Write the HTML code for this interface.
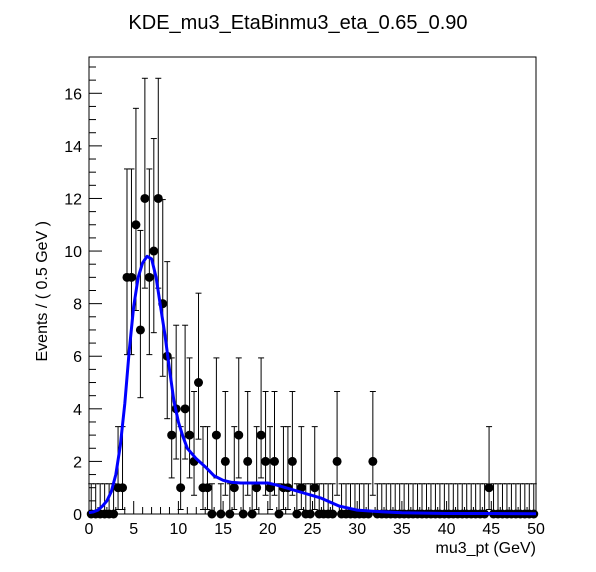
<!DOCTYPE html>
<html><head><meta charset="utf-8"><style>
body{margin:0;background:#fff}
svg{display:block;font-family:"Liberation Sans",Arial,sans-serif}
</style></head><body>
<svg id="c" width="596" height="572" xmlns="http://www.w3.org/2000/svg">
<rect width="596" height="572" fill="#fff"/>
<text x="298" y="29" font-size="20" text-anchor="middle">KDE_mu3_EtaBinmu3_eta_0.65_0.90</text>
<text x="536" y="553" font-size="16" text-anchor="end">mu3_pt (GeV)</text>
<text transform="translate(47,221) rotate(-90)" font-size="16" text-anchor="end">Events / ( 0.5 GeV )</text>
<g id="g"></g>
</svg>
<script>
const counts=[0,0,0,0,0,0,1,1,9,9,11,7,12,9,10,12,8,6,3,4,1,4,3,2,5,1,1,0,3,0,2,0,1,3,0,2,0,1,3,2,1,2,0,1,1,2,0,1,0,0,1,0,0,0,0,2,0,0,0,0,0,0,0,2,0,0,0,0,0,0,0,0,0,0,0,0,0,0,0,0,0,0,0,0,0,0,0,0,0,1,0,0,0,0,0,0,0,0,0,0];
const curveX=[0,0.5,1,1.5,2,2.5,3,3.5,4,4.5,5,5.5,6,6.5,7,7.5,8,8.5,9,9.5,10,10.5,11,12,13,14,15,16,17,18,19,20,21,22,23,24,25,26,27,28,30,32,35,40,45,50];
const curveY=[0.05,0.08,0.15,0.3,0.5,0.85,1.5,2.6,4.2,6.2,7.9,9.0,9.55,9.8,9.7,9.0,7.9,6.8,5.5,4.3,3.5,2.95,2.5,2.1,1.8,1.45,1.28,1.2,1.18,1.18,1.18,1.18,1.1,1.0,0.9,0.8,0.7,0.6,0.45,0.3,0.15,0.1,0.05,0.02,0.02,0.01];
const xTicks=[0,5,10,15,20,25,30,35,40,45,50];
const yTicks=[0,2,4,6,8,10,12,14,16];
const X0=89,X1=536,Y0=514,Y1=57,XMAX=50,YMAX=17.38;
const sx=v=>X0+(X1-X0)*v/XMAX, sy=v=>Y0-(Y0-Y1)*v/YMAX;
const g=document.getElementById('g'),NS='http://www.w3.org/2000/svg';
function mk(t,a){const e=document.createElementNS(NS,t);for(const k in a)e.setAttribute(k,a[k]);g.appendChild(e);return e;}
function errs(n){if(n===0)return[0,1.15];const lo=n*Math.pow(1-1/(9*n)-1/(3*Math.sqrt(n)),3);return[n-lo,Math.sqrt(n+0.75)+1];}
let fr=mk('rect',{x:X0,y:Y1,width:X1-X0,height:Y0-Y1,fill:'none',stroke:'#000','stroke-width':1});


for(let v=0;v<=XMAX;v+=1){const big=v%5===0;mk('line',{x1:sx(v),x2:sx(v),y1:Y0,y2:Y0-(big?13:7),stroke:'#000'});}
xTicks.forEach(v=>{const t=mk('text',{x:sx(v),y:Y0+20,'font-size':16,'text-anchor':'middle'});t.textContent=v;

});
for(let v=0;v<=17;v+=0.5){const big=v%2===0;mk('line',{x1:X0,x2:X0+(big?13:7),y1:sy(v),y2:sy(v),stroke:'#000'});}
yTicks.forEach(v=>{const t=mk('text',{x:X0-7,y:sy(v)+6,'font-size':16,'text-anchor':'end'});t.textContent=v;

});
counts.forEach((n,i)=>{const xc=0.25+0.5*i,px=sx(xc);const [dl,du]=errs(n);
mk('line',{x1:px,x2:px,y1:sy(n+du),y2:sy(Math.max(0,n-dl)),stroke:'#000'});
mk('line',{x1:px-3,x2:px+3,y1:sy(n+du),y2:sy(n+du),stroke:'#000'});
if(n>0)mk('line',{x1:px-3,x2:px+3,y1:sy(n-dl),y2:sy(n-dl),stroke:'#000'});
mk('line',{x1:sx(xc-0.25),x2:sx(xc+0.25),y1:sy(n),y2:sy(n),stroke:'#000'});
const c=mk('circle',{cx:px,cy:sy(n),r:4.5,fill:'#000'});

});
let d='';curveX.forEach((x,i)=>{d+=(i?'L':'M')+sx(x).toFixed(1)+','+sy(curveY[i]).toFixed(1);});
const p=mk('path',{d:d,fill:'none',stroke:'#0000ff','stroke-width':3,'stroke-linejoin':'round'});


</script>
</body></html>
